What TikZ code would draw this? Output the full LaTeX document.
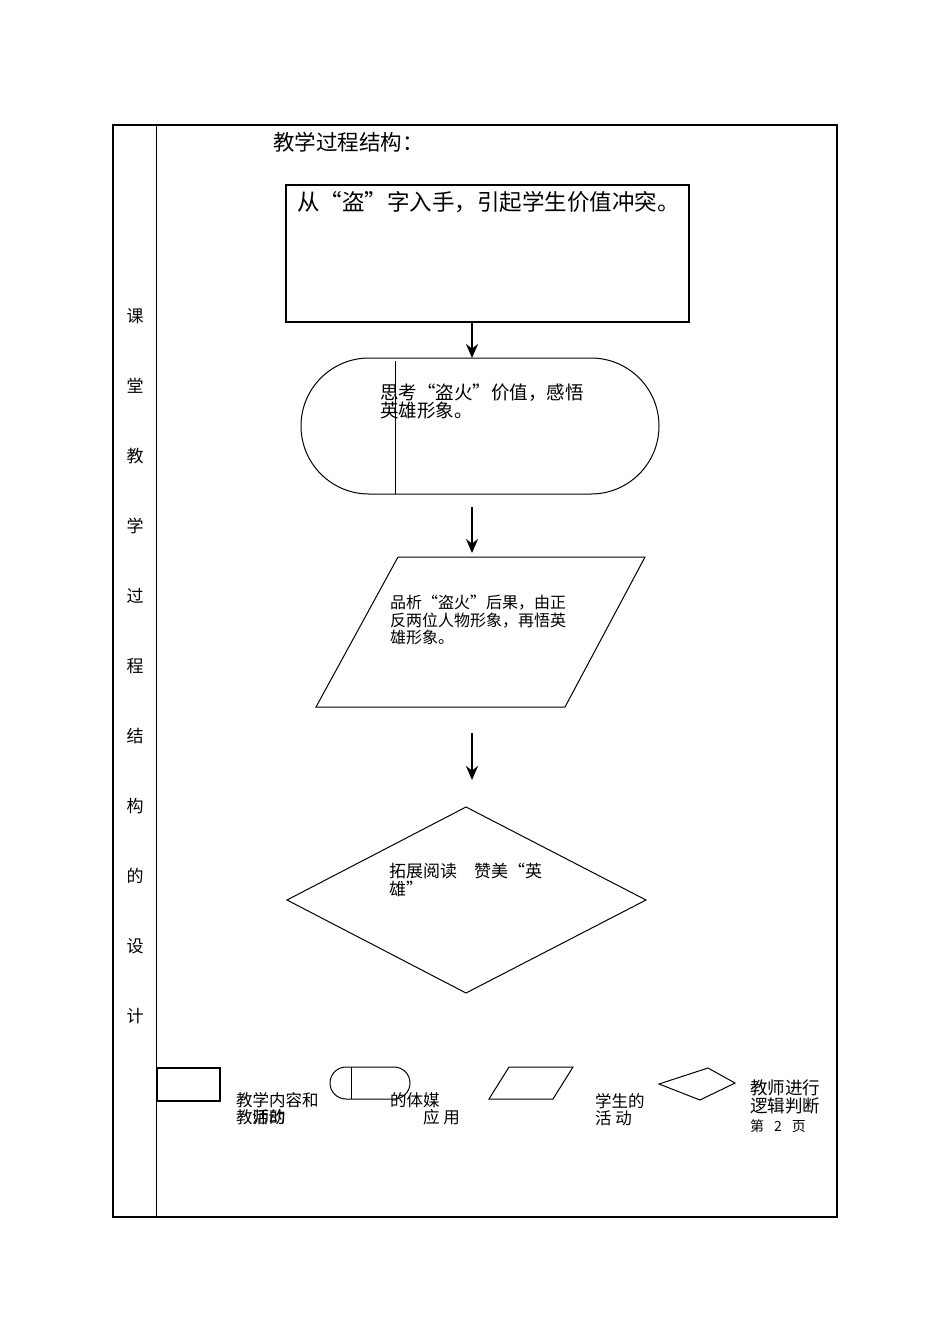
\documentclass[tikz,border=0pt]{standalone}
\usepackage{fontspec}
\setmainfont{Noto Sans CJK SC}
\usetikzlibrary{arrows.meta}

\begin{document}
\begin{tikzpicture}[x=1pt, y=-1pt, line join=miter,
	every node/.style={inner sep=0pt, anchor=west},
	big/.style={font=\fontsize{21.5}{22}\selectfont},
	mid/.style={font=\fontsize{16}{17.5}\selectfont, align=left},
	small/.style={font=\fontsize{16.5}{17}\selectfont, align=left},
	flow/.style={line width=2.8pt, -{Stealth[length=14pt, width=12pt]}}]
	\useasboundingbox (0,0) rectangle (950,1344);
	% frame of the table
	\draw[line width=2pt] (113,125) rectangle (837,1217);
	\draw[line width=1pt] (156,125) -- (156,1217);
	% left column
	\foreach \ch [count=\i from 0] in {课,堂,教,学,过,程,结,构,的,设,计}
		\node[font=\fontsize{17}{17}\selectfont, anchor=center] (col\i) at (135,{316+70*\i}) {\ch};
	\node[big] (title) at (273,142) {教学过程结构：};
	% step 1
	\draw[line width=1.2pt] (286,185) rectangle (689,322);
	\node[font=\fontsize{22.5}{23}\selectfont] (intro) at (297,202) {从“盗”字入手，引起学生价值冲突。};
	\coordinate (a1s) at (472,322);
	\coordinate (a1e) at (472,358);
	% step 2
	\draw[line width=1pt, rounded corners=68pt] (301,358) rectangle (659,494);
	\draw[line width=1pt] (395,361) -- (395,494);
	\node[font=\fontsize{18.5}{18}\selectfont, align=left] (think) at (380,401) {思考“盗火”价值，感悟\\英雄形象。};
	\coordinate (a2s) at (472,507);
	\coordinate (a2e) at (472,553);
	% step 3
	\draw[line width=1pt] (398,557) -- (645,557) -- (565,707) -- (316,707) -- cycle;
	\node[mid] (analyse) at (390,620) {品析“盗火”后果，由正\\反两位人物形象，再悟英\\雄形象。};
	\coordinate (a3s) at (472,733);
	\coordinate (a3e) at (472,780);
	% step 4
	\draw[line width=1pt] (466,807) -- (646,900) -- (466,993) -- (287,900) -- cycle;
	\node[font=\fontsize{17}{18}\selectfont, align=left] (read) at (389,880) {拓展阅读\quad 赞美“英\\雄”};
	\draw[flow] (a1s) -- (a1e);
	\draw[flow] (a2s) -- (a2e);
	\draw[flow] (a3s) -- (a3e);
	% legend
	\draw[line width=1.2pt] (157,1068) rectangle (220,1101);
	\draw[line width=1pt, rounded corners=16pt] (330,1067) rectangle (410,1099);
	\draw[line width=1pt] (351,1067) -- (351,1099);
	\draw[line width=1pt] (509,1067) -- (573,1067) -- (553,1099) -- (489,1099) -- cycle;
	\draw[line width=1pt] (659,1084) -- (708,1068) -- (735,1083) -- (700,1100) -- cycle;
	\node[small] (k1) at (236,1100) {教学内容和};
	\node[small] (k2) at (236,1117) {教师的};
	\node[small] (k2b) at (252,1117) {活动};
	\node[small] (k3) at (390,1100) {的体媒};
	\node[small] (k4) at (423,1117) {应\ 用};
	\node[small] (k5) at (595,1109.5) {学生的\\活\ 动};
	\node[font=\fontsize{17.5}{18}\selectfont, align=left] (k6) at (750,1097) {教师进行\\逻辑判断};
	\node[font=\fontsize{14}{14}\selectfont] (page) at (750,1126) {第\hspace{10pt}2\hspace{10pt}页};
\end{tikzpicture}
\end{document}
